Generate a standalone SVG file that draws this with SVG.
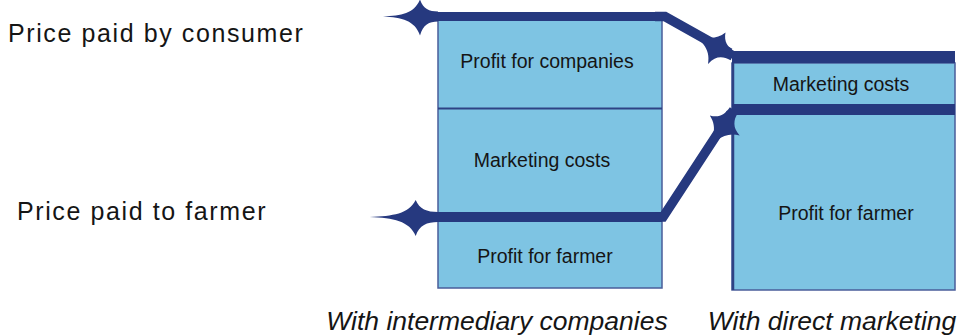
<svg xmlns="http://www.w3.org/2000/svg" width="964" height="336" viewBox="0 0 964 336">
<defs>
<style>
.box{fill:#7EC4E3;stroke:#4A5E9A;stroke-width:1.5}
.div{stroke:#2E4284;stroke-width:2}
.bar{fill:#26397F}
.line{stroke:#26397F;stroke-width:9.5;fill:none}
.t{font-family:"Liberation Sans",Arial,sans-serif;fill:#151515}
.in{font-size:19.5px;text-anchor:middle}
.side{font-size:25px;letter-spacing:1.6px}
.cap{font-size:26.5px;font-style:italic;text-anchor:middle}
</style>
<path id="spark" class="bar" d="M -55,0 C -36,-1 -24,-3 -18,-17 C -15,-8 -9,-5 0,-5 L 0,5 C -9,5 -15,8 -18,19 C -23,4 -36,1 -55,0 Z"/>
</defs>
<rect width="964" height="336" fill="#ffffff"/>

<g id="left-column">
<rect class="box" x="438" y="20" width="224" height="268"/>
<line class="div" x1="438" y1="108.5" x2="662" y2="108.5"/>
<text class="t in" x="547" y="68">Profit for companies</text>
<text class="t in" x="542" y="167">Marketing costs</text>
<text class="t in" x="545" y="263">Profit for farmer</text>
</g>

<g id="right-column">
<rect class="box" x="732" y="63" width="223" height="227"/>
<line x1="733" y1="63" x2="733" y2="290" stroke="#2E4284" stroke-width="2.5"/>
<text class="t in" x="841" y="91">Marketing costs</text>
<text class="t in" x="846" y="220">Profit for farmer</text>
</g>

<g id="connectors">
<rect class="bar" x="437" y="12" width="227" height="9"/>
<polyline class="line" points="655,16.5 665,16.5 730,53"/>
<use href="#spark" transform="translate(733,56) rotate(29)"/>
<rect class="bar" x="732" y="51" width="223" height="12"/>
<use href="#spark" transform="translate(438,16.5)"/>

<rect class="bar" x="437" y="212" width="225" height="10"/>
<polyline class="line" points="655,217 663,217 731,113"/>
<use href="#spark" transform="translate(734,110) rotate(-56)"/>
<rect class="bar" x="732" y="104" width="223" height="11"/>
<use href="#spark" transform="translate(438,217) scale(1.24,1)"/>
</g>

<g id="labels">
<text class="t side" x="8" y="42">Price paid by consumer</text>
<text class="t side" x="17" y="220">Price paid to farmer</text>
<text class="t cap" x="497" y="330">With intermediary companies</text>
<text class="t cap" x="832" y="330">With direct marketing</text>
</g>
</svg>
